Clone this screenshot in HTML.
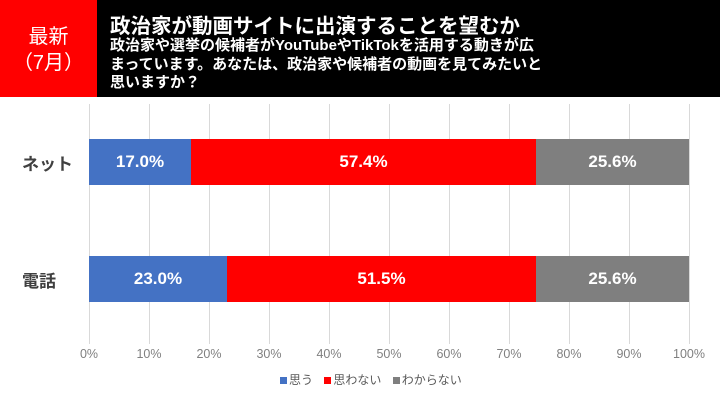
<!DOCTYPE html>
<html><head><meta charset="utf-8"><style>
body{margin:0;width:720px;height:405px;background:#fff;position:relative;overflow:hidden;font-family:"Liberation Sans","Noto Sans CJK JP",sans-serif}
.hdr{position:absolute;left:0;top:0;width:720px;height:97px;background:#000}
.red{position:absolute;left:0;top:0;width:97px;height:97px;background:#f00;color:#fff;text-align:center;font-size:20px;line-height:26px;padding-top:24px;box-sizing:border-box}
.t{position:absolute;left:110px;top:9px;color:#fff;font-size:20.5px;font-weight:bold;white-space:nowrap}
.s{position:absolute;left:110px;top:37px;color:#fff;font-size:15px;line-height:18.5px;font-weight:bold;white-space:nowrap}
.g{position:absolute;top:104px;height:240px;width:1px;background:#d9d9d9}
.bar{position:absolute;height:46px;color:#fff;font-size:17px;font-weight:bold;line-height:46px;text-align:center}
.cat{position:absolute;left:22px;font-size:17px;font-weight:bold;color:#404040}
.ax{position:absolute;top:347px;width:50px;margin-left:-25px;text-align:center;font-size:12.5px;color:#808080}
.lg{position:absolute;top:371px;left:272px;font-size:12px;color:#595959;white-space:nowrap}
.lg i{display:inline-block;width:7px;height:7px;margin:0 2px 0 8px}
</style></head><body>
<div class="hdr"></div>
<div class="red">最新<br>（7月）</div>
<div class="t">政治家が動画サイトに出演することを望むか</div>
<div class="s">政治家や選挙の候補者がYouTubeやTikTokを活用する動きが広<br>まっています。あなたは、政治家や候補者の動画を見てみたいと<br>思いますか？</div>
<div class="g" style="left:89px"></div><div class="g" style="left:149px"></div><div class="g" style="left:209px"></div><div class="g" style="left:269px"></div><div class="g" style="left:329px"></div><div class="g" style="left:389px"></div><div class="g" style="left:449px"></div><div class="g" style="left:509px"></div><div class="g" style="left:569px"></div><div class="g" style="left:629px"></div><div class="g" style="left:689px"></div>
<div class="cat" style="top:150px">ネット</div>
<div class="cat" style="top:267px">電話</div>
<div class="bar" style="top:139px;left:89px;width:102px;background:#4472c4">17.0%</div>
<div class="bar" style="top:139px;left:191px;width:345px;background:#f00">57.4%</div>
<div class="bar" style="top:139px;left:536px;width:153px;background:#7f7f7f">25.6%</div>
<div class="bar" style="top:256px;left:89px;width:138px;background:#4472c4">23.0%</div>
<div class="bar" style="top:256px;left:227px;width:309px;background:#f00">51.5%</div>
<div class="bar" style="top:256px;left:536px;width:153px;background:#7f7f7f">25.6%</div>
<div class="ax" style="left:89px">0%</div><div class="ax" style="left:149px">10%</div><div class="ax" style="left:209px">20%</div><div class="ax" style="left:269px">30%</div><div class="ax" style="left:329px">40%</div><div class="ax" style="left:389px">50%</div><div class="ax" style="left:449px">60%</div><div class="ax" style="left:509px">70%</div><div class="ax" style="left:569px">80%</div><div class="ax" style="left:629px">90%</div><div class="ax" style="left:689px">100%</div>
<div class="lg"><i style="background:#4472c4"></i>思う <i style="background:#f00"></i>思わない <i style="background:#7f7f7f"></i>わからない</div>
</body></html>
